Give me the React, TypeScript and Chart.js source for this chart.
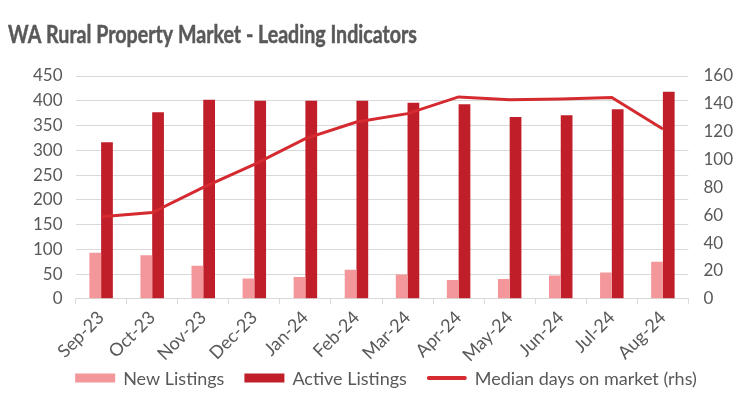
import React, { useEffect, useRef } from "react";
import { Chart, registerables } from "chart.js";

Chart.register(...registerables);

const categories = ["Sep-23", "Oct-23", "Nov-23", "Dec-23", "Jan-24", "Feb-24", "Mar-24", "Apr-24", "May-24", "Jun-24", "Jul-24", "Aug-24"];
const newListings = [93, 88, 67, 41, 44, 59, 49, 38, 40, 47, 53, 75];
const activeListings = [316, 377, 402, 400, 400, 400, 396, 393, 367, 371, 383, 418];
const medianDays = [59, 62, 80, 96.5, 115, 127, 133, 145, 143, 143.5, 144.5, 122];

const TITLE = "WA Rural Property Market - Leading Indicators";
const TEXT = "#595959";
const GRID = "#d9d9d9";
const FONT = "Lato, 'Open Sans', sans-serif";

const titlePlugin = {
  id: "condensedTitle",
  afterDraw(chart: any) {
    const ctx = chart.ctx as CanvasRenderingContext2D;
    ctx.save();
    ctx.font = "bold 25px Lato, 'Open Sans', sans-serif";
    ctx.fillStyle = TEXT;
    ctx.strokeStyle = TEXT;
    ctx.lineWidth = 0.5;
    ctx.textBaseline = "alphabetic";
    ctx.textAlign = "left";
    const w = ctx.measureText(TITLE).width;
    const target = 409;
    ctx.translate(8, 43);
    ctx.scale(target / w, 1);
    ctx.fillText(TITLE, 0, 0);
    ctx.strokeText(TITLE, 0, 0);
    ctx.restore();
  },
};

const legendPlugin = {
  id: "customLegend",
  afterDraw(chart: any) {
    const ctx = chart.ctx as CanvasRenderingContext2D;
    const ds = chart.data.datasets;
    const boxW = 40;
    const gap = 8;
    const itemGap = 20;
    const y = 378;
    ctx.save();
    ctx.font = "18px Lato, 'Open Sans', sans-serif";
    ctx.textBaseline = "middle";
    ctx.textAlign = "left";
    const widths = ds.map((d: any) => boxW + gap + ctx.measureText(d.label).width);
    const total = widths.reduce((a: number, b: number) => a + b, 0) + itemGap * (ds.length - 1);
    let x = 386 - total / 2;
    ds.forEach((d: any, i: number) => {
      if (d.type === "line") {
        ctx.strokeStyle = d.borderColor;
        ctx.lineWidth = 4;
        ctx.lineCap = "round";
        ctx.beginPath();
        ctx.moveTo(x + 2, y);
        ctx.lineTo(x + boxW - 2, y);
        ctx.stroke();
      } else {
        ctx.fillStyle = d.backgroundColor;
        ctx.fillRect(x, y - 4.5, boxW, 9);
      }
      ctx.fillStyle = TEXT;
      ctx.fillText(d.label, x + boxW + gap, y + 1);
      x += widths[i] + itemGap;
    });
    ctx.restore();
  },
};

export default function App() {
  const ref = useRef<HTMLCanvasElement | null>(null);
  useEffect(() => {
    document.body.style.margin = "0";
    const ctx = ref.current!;
    const chart = new Chart(ctx, {
      type: "bar",
      data: {
        labels: categories,
        datasets: [
          {
            type: "bar",
            label: "New Listings",
            data: newListings,
            backgroundColor: "#F4979B",
            borderWidth: 0,
            yAxisID: "y",
            barPercentage: 1,
            categoryPercentage: 0.46,
          } as any,
          {
            type: "bar",
            label: "Active Listings",
            data: activeListings,
            backgroundColor: "#C01F2A",
            borderWidth: 0,
            yAxisID: "y",
            barPercentage: 1,
            categoryPercentage: 0.46,
          } as any,
          {
            type: "line",
            label: "Median days on market (rhs)",
            data: medianDays,
            borderColor: "#D42A30",
            backgroundColor: "#D42A30",
            borderWidth: 3,
            pointRadius: 0,
            tension: 0,
            yAxisID: "y1",
            order: -1,
          } as any,
        ],
      },
      plugins: [titlePlugin, legendPlugin],
      options: {
        responsive: false,
        maintainAspectRatio: false,
        animation: false,
        layout: { padding: { left: 20, right: 8, top: 76, bottom: 30 } },
        plugins: {
          title: { display: false },
          legend: { display: false },
          tooltip: { enabled: false },
        },
        scales: {
          x: {
            grid: { display: true, drawOnChartArea: false, offset: true, color: GRID, tickLength: 5 },
            border: { display: true, color: GRID },
            ticks: { color: TEXT, font: { family: FONT, size: 18 }, maxRotation: 45, minRotation: 45, padding: 3, autoSkip: false },
          },
          y: {
            position: "left",
            min: 0,
            max: 450,
            ticks: { stepSize: 50, color: TEXT, font: { family: FONT, size: 17 }, padding: 13, autoSkip: false },
            grid: { color: GRID, drawTicks: false },
            border: { display: false },
          },
          y1: {
            position: "right",
            min: 0,
            max: 160,
            ticks: { stepSize: 20, color: TEXT, font: { family: FONT, size: 17 }, padding: 15, autoSkip: false },
            grid: { drawOnChartArea: false, drawTicks: false },
            border: { display: false },
          },
        },
      } as any,
    });
    return () => chart.destroy();
  }, []);
  return (
    <div style={{ width: 756, height: 399 }}>
      <canvas ref={ref} width={756} height={399} style={{ display: "block" }} />
    </div>
  );
}
